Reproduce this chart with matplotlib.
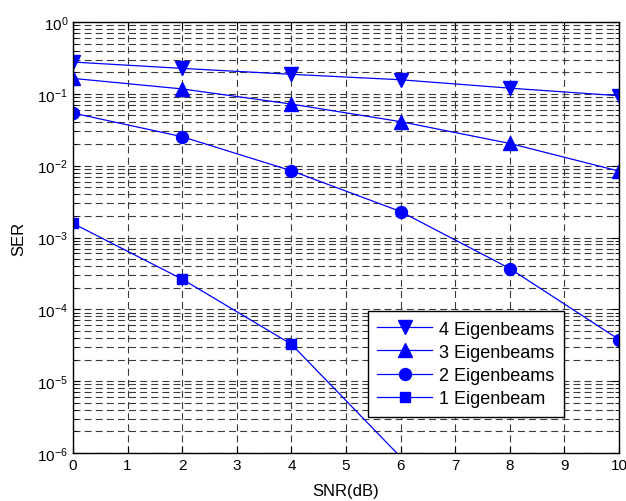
import numpy as np
import matplotlib
matplotlib.use("Agg")
import matplotlib.pyplot as plt
from matplotlib.ticker import LogLocator, FixedLocator, NullFormatter

snr_db = [0, 2, 4, 6, 8, 10]
ser_4 = [0.277, 0.226, 0.187, 0.157, 0.120, 0.094]
ser_3 = [0.164, 0.117, 0.072, 0.041, 0.0204, 0.0084]
ser_2 = [0.054, 0.0253, 0.0085, 0.0023, 3.7e-4, 3.8e-5]
snr_1 = [0, 2, 4, 6]
ser_1 = [1.57e-3, 2.63e-4, 3.27e-5, 8.8e-7]

labels = ["4 Eigenbeams", "3 Eigenbeams", "2 Eigenbeams", "1 Eigenbeam"]

plt.rcParams["font.family"] = ["Liberation Sans", "DejaVu Sans"]
plt.rcParams["lines.scale_dashes"] = False

fig = plt.figure(figsize=(6.26, 5.02), dpi=100)
ax = fig.add_axes([73 / 626, 48 / 502, 546 / 626, 431 / 502])

ymin, ymax = 1e-6, 1.0
blue = "#0000ff"


def visible(ys):
    # only draw markers whose centre lies inside the y range
    return [i for i, v in enumerate(ys) if ymin <= v <= ymax]


ax.semilogy(snr_db, ser_4, color=blue, lw=0.9, marker="v", ms=9.5, label=labels[0],
            markevery=visible(ser_4))
ax.semilogy(snr_db, ser_3, color=blue, lw=0.9, marker="^", ms=9.5, label=labels[1],
            markevery=visible(ser_3))
ax.semilogy(snr_db, ser_2, color=blue, lw=0.9, marker="o", ms=8.6, label=labels[2],
            markevery=visible(ser_2))
ax.semilogy(snr_1, ser_1, color=blue, lw=0.9, marker="s", ms=7.7, label=labels[3],
            markevery=visible(ser_1))

ax.set_xlim(0, 10)
ax.set_ylim(ymin, ymax)
ax.xaxis.set_major_locator(FixedLocator(range(0, 11)))
ax.yaxis.set_major_locator(LogLocator(base=10, numticks=20))
ax.yaxis.set_minor_locator(LogLocator(base=10, subs=np.arange(2, 10), numticks=20))
ax.yaxis.set_minor_formatter(NullFormatter())

grid_style = dict(color="#3a3a3a", linestyle=(0, (5, 3)), lw=0.8)
ax.grid(True, which="major", axis="both", **grid_style)
ax.grid(True, which="minor", axis="y", **grid_style)

ax.tick_params(which="both", direction="in", top=True, right=True, labelsize=11)
ax.tick_params(which="major", length=5)
ax.tick_params(which="minor", length=3)
for s in ax.spines.values():
    s.set_linewidth(1.0)

ax.set_xlabel("SNR(dB)", fontsize=12, labelpad=8)
ax.set_ylabel("SER", fontsize=12, labelpad=8)

leg = ax.legend(loc="lower right", bbox_to_anchor=(564 / 626, (502 - 418) / 502),
                bbox_transform=fig.transFigure, fontsize=13, fancybox=False,
                edgecolor="black", framealpha=1, borderpad=0.55, labelspacing=0.34,
                handlelength=3.0, handletextpad=0.4, borderaxespad=0)
leg.get_frame().set_linewidth(1.0)

fig.savefig("out.png", dpi=100)
